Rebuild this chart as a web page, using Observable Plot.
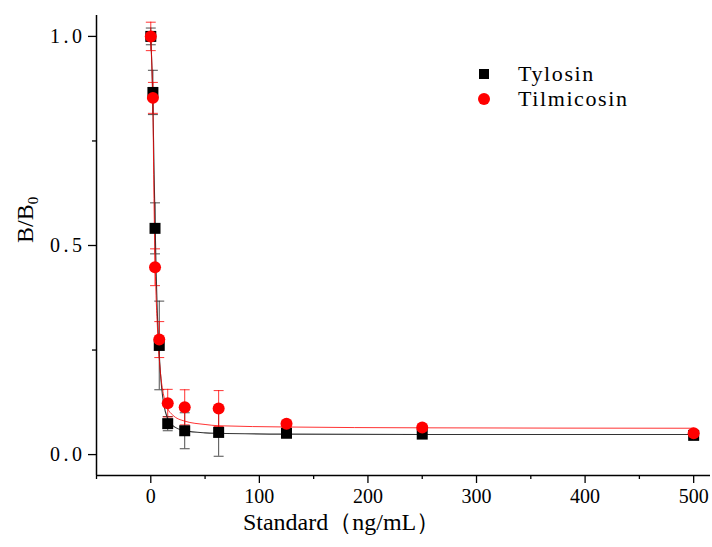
<!DOCTYPE html>
<html><head><meta charset="utf-8">
<script src="https://cdn.jsdelivr.net/npm/d3@7"></script>
<script src="https://cdn.jsdelivr.net/npm/@observablehq/plot@0.6"></script>
<style>
body{margin:0;background:#fff;}
#wrap{position:relative;width:712px;height:547px;}
.legend{position:absolute;left:478px;top:61px;font-family:"Liberation Serif",serif;font-size:22px;letter-spacing:1.6px;color:#000;}
.legend .row{display:flex;align-items:center;height:25px;}
.legend .mk{width:12px;display:flex;justify-content:center;margin-right:28px;}
.legend .sq{width:10px;height:10px;background:#000;}
.legend .ci{width:12px;height:12px;border-radius:50%;background:#ff0000;}
g[aria-label="y-axis tick label"] text{letter-spacing:3.5px;}
</style></head>
<body><div id="wrap"></div>
<script>
const seriesNames = ["Tylosin", "Tilmicosin"];
const seriesColors = ["#000000", "#ff0000"];
const conc = [0, 1.95, 3.9, 7.8, 15.6, 31.25, 62.5, 125, 250, 500];
const tylosin = [1.0, 0.866, 0.541, 0.261, 0.074, 0.057, 0.053, 0.051, 0.049, 0.046];
const tylosinErr = [0.02, 0.053, 0.061, 0.106, 0.017, 0.043, 0.057, 0.008, 0.006, 0.006];
const tilmicosin = [1.0, 0.853, 0.448, 0.275, 0.123, 0.113, 0.110, 0.074, 0.065, 0.051];
const tilmicosinErr = [0.034, 0.037, 0.044, 0.043, 0.033, 0.042, 0.043, 0.008, 0.006, 0.005];
const fitX = [0, 1, 1.95, 3, 3.9, 5, 6, 7.8, 10, 12, 15.6, 20, 31.25, 50, 62.5, 125, 250, 500];
const fitTylosin = [1.0, 0.93, 0.84, 0.68, 0.56, 0.43, 0.34, 0.24, 0.16, 0.12, 0.085, 0.07, 0.057, 0.052, 0.051, 0.049, 0.048, 0.048];
const fitTilmicosin = [1.0, 0.93, 0.83, 0.60, 0.47, 0.37, 0.31, 0.23, 0.17, 0.14, 0.11, 0.095, 0.08, 0.072, 0.069, 0.066, 0.064, 0.063];
const xMajor = [0, 100, 200, 300, 400, 500];
const xMinor = [-50, 50, 150, 250, 350, 450];
const yMajor = [0, 0.5, 1.0];
const yMinor = [0.25, 0.75];
const xTitle = "Standard（ng/mL）";

const pts = (vals, errs, name) => conc.map((c, i) => ({x: c, y: vals[i], lo: vals[i] - errs[i], hi: vals[i] + errs[i], s: name}));
const tyl = pts(tylosin, tylosinErr, seriesNames[0]);
const til = pts(tilmicosin, tilmicosinErr, seriesNames[1]);
const fitT = fitX.map((x, i) => ({x, y: fitTylosin[i]}));
const fitM = fitX.map((x, i) => ({x, y: fitTilmicosin[i]}));

const cap = {draw(ctx, size) { const w = Math.sqrt(size) / 2; ctx.moveTo(-w, 0); ctx.lineTo(w, 0); }};

function errMarks(data, color, op) {
  return [
    Plot.ruleX(data, {x: "x", y1: "lo", y2: "hi", stroke: color, strokeWidth: 1, strokeOpacity: op}),
    Plot.dot(data, {x: "x", y: "hi", symbol: cap, r: 5.6, stroke: color, strokeWidth: 1, strokeOpacity: op, fill: "none"}),
    Plot.dot(data, {x: "x", y: "lo", symbol: cap, r: 5.6, stroke: color, strokeWidth: 1, strokeOpacity: op, fill: "none"})
  ];
}

const titles = (index, {x, y}, values, dims) => {
  const g = d3.create("svg:g").attr("font-family", "Liberation Serif, serif").attr("fill", "#000");
  g.append("text")
    .attr("x", dims.marginLeft + (dims.width - dims.marginLeft - dims.marginRight) * 0.4)
    .attr("y", dims.height - 17)
    .attr("text-anchor", "middle").attr("font-size", 24).text(xTitle);
  const yt = g.append("text")
    .attr("transform", `translate(33,${y(0.56)}) rotate(-90)`)
    .attr("text-anchor", "middle").attr("font-size", 24);
  yt.append("tspan").text("B/B");
  yt.append("tspan").attr("font-size", 15).attr("dy", "0.3em").text("0");
  return g.node();
};

const chart = Plot.plot({
  width: 712, height: 547,
  marginLeft: 96, marginRight: 2, marginTop: 15, marginBottom: 72,
  style: {fontFamily: "Liberation Serif, serif", fontSize: "20px", color: "#000", background: "#fff"},
  x: {domain: [-50, 515.5]},
  y: {domain: [-0.05, 1.05]},
  marks: [
    Plot.axisX({ticks: xMajor, tickSize: 8, tickPadding: 5, fontSize: 20, label: null, strokeWidth: 1.3}),
    Plot.axisX({ticks: xMinor, tickSize: 4, text: null, label: null, strokeWidth: 1.3}),
    Plot.axisY({ticks: yMajor, tickSize: 8, tickPadding: 3, fontSize: 20, tickFormat: d3.format(".1f"), label: null, strokeWidth: 1.3}),
    Plot.axisY({ticks: yMinor, tickSize: 4, text: null, label: null, strokeWidth: 1.3}),
    Plot.ruleX([-50], {stroke: "#000", strokeWidth: 1.5}),
    Plot.ruleY([-0.05], {stroke: "#000", strokeWidth: 1.5}),
    ...errMarks(tyl, "#222", 0.8),
    ...errMarks(til, "#ff0000", 0.8),
    Plot.line(fitT, {x: "x", y: "y", curve: "monotone-x", stroke: "#333", strokeWidth: 1.1}),
    Plot.line(fitM, {x: "x", y: "y", curve: "monotone-x", stroke: "#ff0000", strokeWidth: 1, strokeOpacity: 0.8}),
    Plot.dot(tyl, {x: "x", y: "y", symbol: "square", r: 6.2, fill: seriesColors[0], stroke: "none"}),
    Plot.dot(til, {x: "x", y: "y", symbol: "circle", r: 6, fill: seriesColors[1], stroke: "none"}),
    titles
  ]
});
const wrap = document.getElementById("wrap");
wrap.appendChild(chart);
const leg = document.createElement("div");
leg.className = "legend";
seriesNames.forEach((n, i) => {
  const row = document.createElement("div"); row.className = "row";
  const mk = document.createElement("div"); mk.className = "mk";
  const sh = document.createElement("div"); sh.className = i === 0 ? "sq" : "ci";
  mk.appendChild(sh); row.appendChild(mk);
  const t = document.createElement("span"); t.textContent = n; row.appendChild(t);
  leg.appendChild(row);
});
wrap.appendChild(leg);
</script>
</body></html>
